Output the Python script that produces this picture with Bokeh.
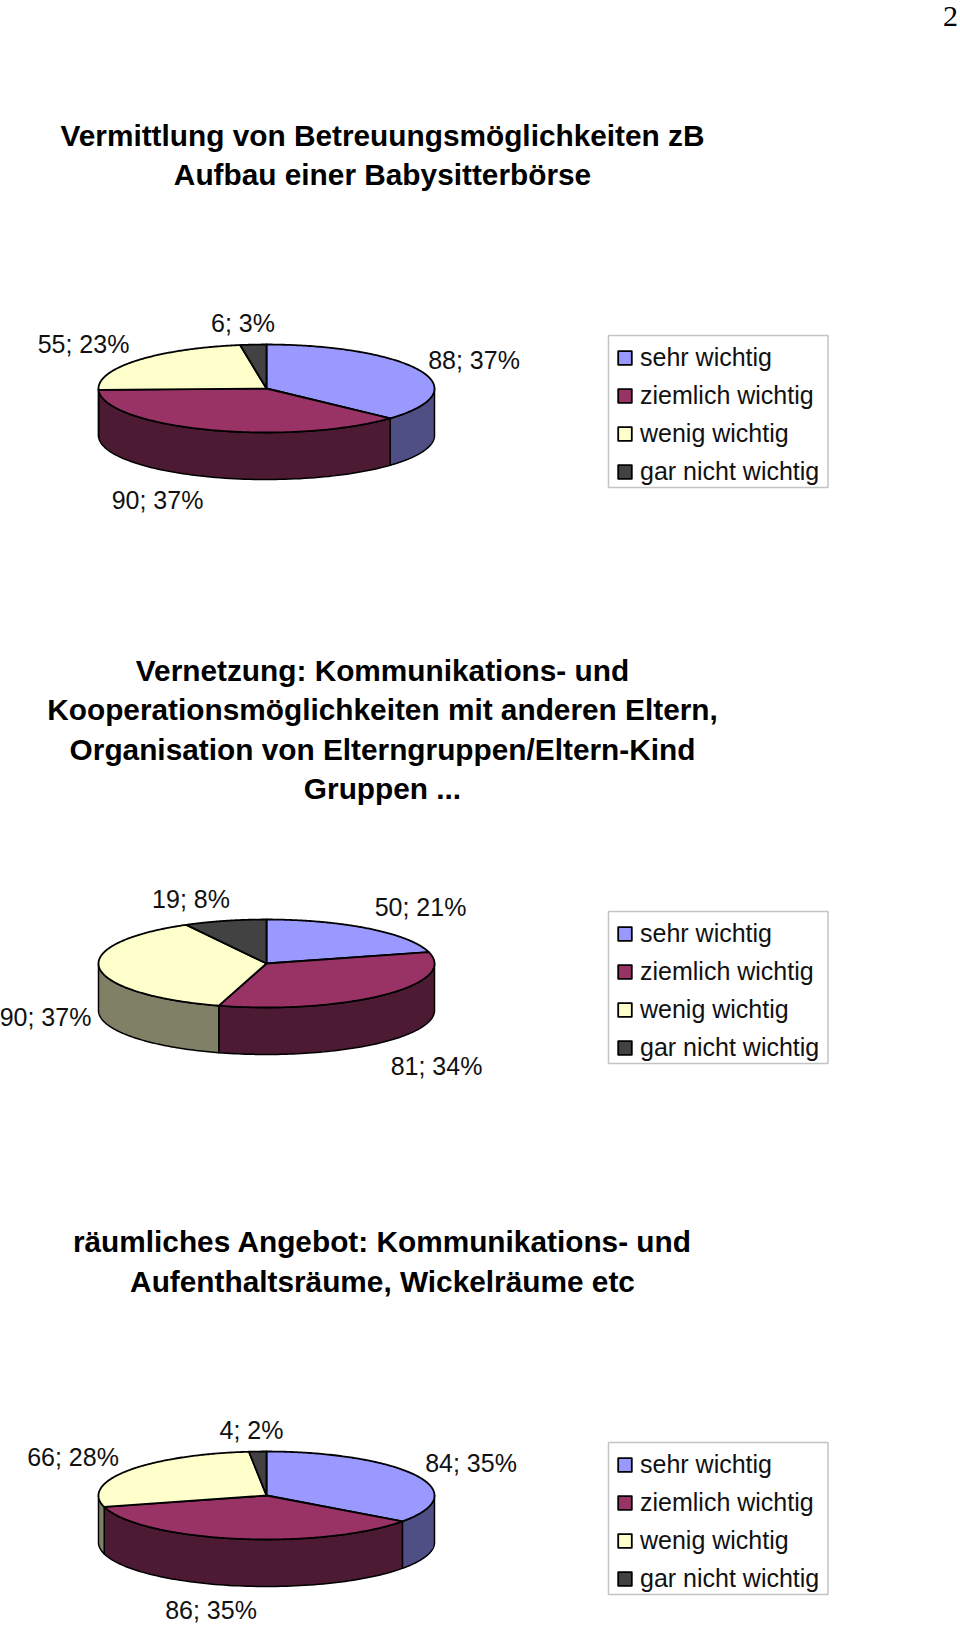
import numpy as np
from bokeh.core.properties import value
from bokeh.embed import file_html
from bokeh.layouts import column
from bokeh.models import ColumnDataSource, Legend, LegendItem, Range1d
from bokeh.plotting import figure
from bokeh.resources import INLINE

categories = ["sehr wichtig", "ziemlich wichtig", "wenig wichtig", "gar nicht wichtig"]

values_betreuung = [88, 90, 55, 6]
percent_betreuung = [37, 37, 23, 3]
values_vernetzung = [50, 81, 90, 19]
percent_vernetzung = [21, 34, 37, 8]
values_raeumlich = [84, 86, 66, 4]
percent_raeumlich = [35, 35, 28, 2]

title_betreuung = ["Vermittlung von Betreuungsmöglichkeiten zB", "Aufbau einer Babysitterbörse"]
title_vernetzung = ["Vernetzung: Kommunikations- und",
                    "Kooperationsmöglichkeiten mit anderen Eltern,",
                    "Organisation von Elterngruppen/Eltern-Kind",
                    "Gruppen ..."]
title_raeumlich = ["räumliches Angebot: Kommunikations- und", "Aufenthaltsräume, Wickelräume etc"]

TOP_COLORS = ["#9999ff", "#993366", "#ffffcc", "#424242"]
SIDE_COLORS = ["#4f4f85", "#4d1a33", "#808066", "#222222"]

SANS = "Liberation Sans"
RX, RY, DEPTH, CX = 168, 44, 47, 266
PAGE_W = 960
TITLE_PX = "29.8px"
LABEL_PX = "25px"


def ell(cy, deg):
    t = np.radians(deg)
    return CX + RX * np.sin(t), cy - RY * np.cos(t)


def chart(y0, y1, vals, pcts, title_lines, title_ys, cy, legend_top, label_xy):
    h = y1 - y0
    p = figure(width=PAGE_W, height=h, output_backend="svg", toolbar_location=None,
               x_range=Range1d(0, PAGE_W), y_range=Range1d(y1, y0),
               min_border=0, outline_line_color=None, background_fill_color="white",
               border_fill_color="white")
    p.axis.visible = False
    p.grid.visible = False

    total = sum(vals)
    edges = np.concatenate([[0], np.cumsum(vals)]) / total * 360

    # visible outer wall: the front half of the rim, 90..270 deg clockwise from the top
    for i in range(len(vals)):
        a, b = max(edges[i], 90), min(edges[i + 1], 270)
        if b > a:
            th = np.linspace(a, b, 80)
            x, y = ell(cy, th)
            p.patch(np.r_[x, x[::-1]], np.r_[y, y[::-1] + DEPTH],
                    fill_color=SIDE_COLORS[i], line_color="black", line_width=1.5,
                    line_join="round")

    # top faces
    items = []
    for i in range(len(vals)):
        th = np.linspace(edges[i], edges[i + 1], 160)
        x, y = ell(cy, th)
        r = p.patch(np.r_[CX, x], np.r_[cy, y], fill_color=TOP_COLORS[i],
                    line_color="black", line_width=1.8, line_join="round")
        items.append(LegendItem(label=categories[i], renderers=[r]))

    # data labels
    src = ColumnDataSource(dict(
        x=[q[0] for q in label_xy], y=[q[1] for q in label_xy],
        t=[f"{v}; {c}%" for v, c in zip(vals, pcts)]))
    p.text("x", "y", text="t", source=src, text_font=value(SANS), text_font_size=LABEL_PX,
           text_align="center", text_baseline="middle", text_color="#111111")

    # title
    src = ColumnDataSource(dict(x=[382] * len(title_lines), y=title_ys, t=title_lines))
    p.text("x", "y", text="t", source=src, text_font=value(SANS), text_font_size=TITLE_PX,
           text_font_style="bold", text_align="center", text_baseline="middle",
           text_color="black")

    # legend frame
    p.quad(left=[608], right=[827.5], top=[legend_top], bottom=[legend_top + 152],
           fill_color="white", line_color="#c4c4c4", line_width=1.5, level="underlay")
    row_top = legend_top + 7.5
    leg = Legend(items=items, location=(616, h - (row_top - y0) - 143),
                 orientation="vertical", padding=0, margin=0, spacing=9,
                 glyph_width=17, glyph_height=17, label_height=22, label_standoff=7,
                 label_text_font=SANS, label_text_font_size=LABEL_PX,
                 label_text_color="#111111", label_text_baseline="middle",
                 background_fill_alpha=0, border_line_color=None)
    p.add_layout(leg, "center")
    return p


p1 = chart(0, 560, values_betreuung, percent_betreuung, title_betreuung, [135, 174], 388, 335,
           [(473.5, 359), (157, 499), (83, 343), (242.5, 322)])
p1.text([950], [16], text=["2"], text_font=value("Liberation Serif"), text_font_size="30px",
        text_align="center", text_baseline="middle", text_color="black")
p2 = chart(560, 1100, values_vernetzung, percent_vernetzung, title_vernetzung,
           [670, 709, 749, 788], 963, 911,
           [(420, 906), (436, 1065), (45, 1016), (190.5, 898)])
p3 = chart(1100, 1626, values_raeumlich, percent_raeumlich, title_raeumlich, [1241, 1281], 1495, 1442,
           [(470.5, 1462), (210.5, 1609), (72.5, 1456), (251, 1429)])

page = column(p1, p2, p3, spacing=0)
open("out.html", "w").write(file_html(page, INLINE))
